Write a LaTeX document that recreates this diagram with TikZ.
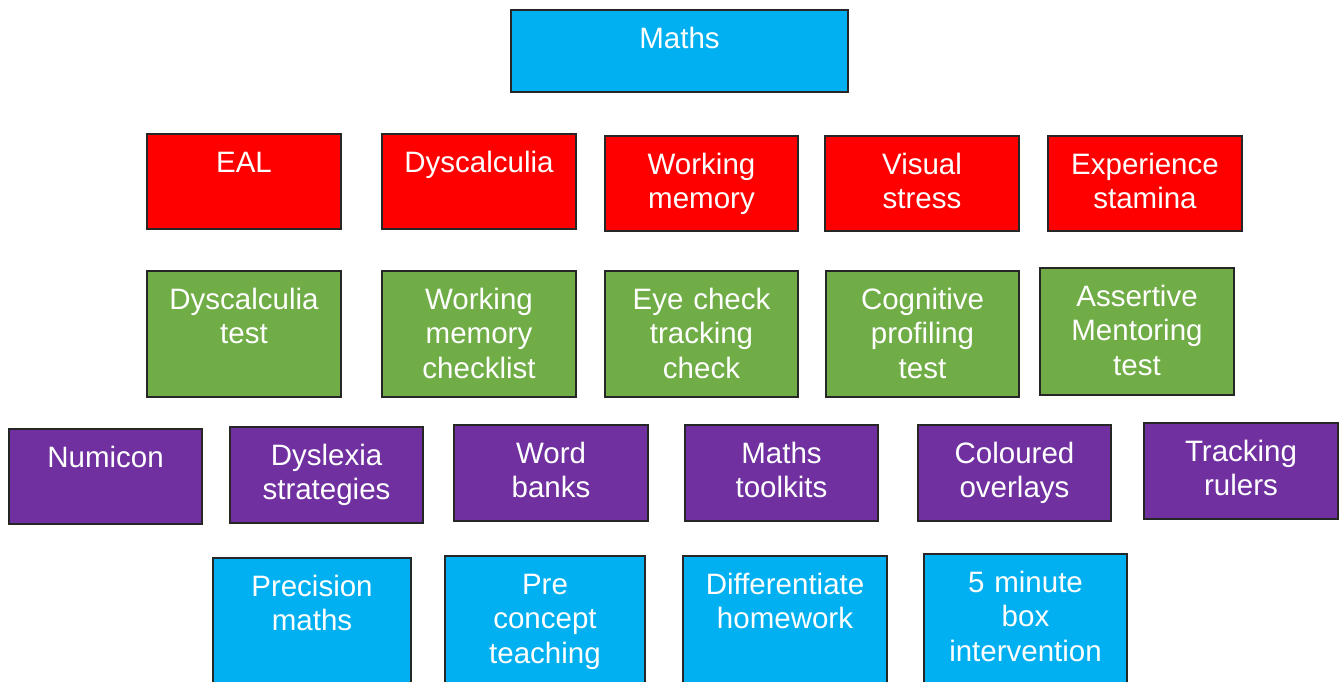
\documentclass[tikz,border=0pt]{standalone}
\usepackage{fontspec}
\setmainfont{Liberation Sans}
\definecolor{cblue}{HTML}{00B0F0}
\definecolor{cred}{HTML}{FF0000}
\definecolor{cgreen}{HTML}{70AD47}
\definecolor{cpurple}{HTML}{7030A0}
\tikzset{
  boxst/.style={draw=black!85, line width=1.3pt, inner sep=0pt, outer sep=0pt},
  lblst/.style={text=white, text width=200pt, align=center, inner sep=0pt,
    font=\fontsize{29.5}{34.5}\selectfont},
}
\newcommand\tbox[7]{%
  \node[boxst, fill=#6, minimum width=#4pt, minimum height=#5pt, anchor=north west] (#1) at (#2,#3) {};
  \node[lblst, anchor=base] (#1-t) at ([yshift=-38pt]#1.north) {#7};}
\begin{document}
\begin{tikzpicture}[x=1pt,y=-1pt]
\useasboundingbox (0,0) rectangle (1340,681);
\clip (0,0) rectangle (1340,681);
\fill[white] (0,0) rectangle (1340,681);
% top
\tbox{maths}{511}{10}{337}{82}{cblue}{Maths}
% red row
\tbox{eal}{147}{134}{194}{95}{cred}{EAL}
\tbox{dysc}{382}{134}{194}{95}{cred}{Dyscalculia}
\tbox{wm}{605}{136}{193}{95}{cred}{Working\\memory}
\tbox{vs}{825}{136}{194}{95}{cred}{Visual\\stress}
\tbox{exp}{1048}{136}{194}{95}{cred}{Experience\\stamina}
% green row
\tbox{dyst}{147}{271}{194}{126}{cgreen}{Dyscalculia\\test}
\tbox{wmc}{382}{271}{194}{126}{cgreen}{Working\\memory\\checklist}
\tbox{eye}{605}{271}{193}{126}{cgreen}{Eye check\\tracking\\check}
\tbox{cog}{826}{271}{193}{126}{cgreen}{Cognitive\\profiling\\test}
\tbox{ass}{1040}{268}{194}{127}{cgreen}{Assertive\\Mentoring\\test}
% purple row
\tbox{num}{9}{429}{193}{95}{cpurple}{Numicon}
\tbox{dysl}{230}{427}{193}{96}{cpurple}{Dyslexia\\strategies}
\tbox{word}{454}{425}{194}{96}{cpurple}{Word\\banks}
\tbox{tool}{685}{425}{193}{96}{cpurple}{Maths\\toolkits}
\tbox{col}{918}{425}{193}{96}{cpurple}{Coloured\\overlays}
\tbox{rul}{1144}{423}{194}{96}{cpurple}{Tracking\\rulers}
% blue row
\tbox{prec}{213}{558}{198}{140}{cblue}{Precision\\maths}
\tbox{pre}{445}{556}{200}{140}{cblue}{Pre\\concept\\teaching}
\tbox{diff}{683}{556}{204}{140}{cblue}{Differentiate\\homework}
\tbox{five}{924}{554}{203}{140}{cblue}{5 minute\\box\\intervention}
\end{tikzpicture}
\end{document}
